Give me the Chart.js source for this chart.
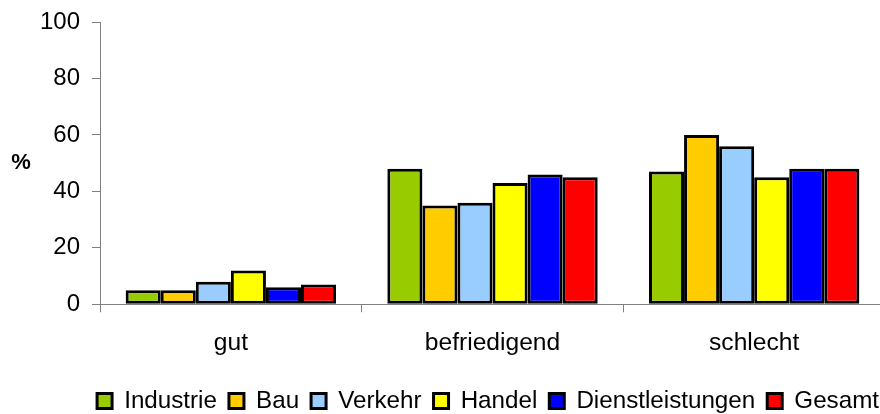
<!DOCTYPE html>
<html lang="de">
<head>
    <meta charset="UTF-8">
    <title>Bewertung nach Branchen</title>
    <script src="https://cdn.jsdelivr.net/npm/chart.js"></script>
    <style>
        html, body {
            margin: 0;
            padding: 0;
            background: #fff;
            overflow: hidden;
        }
        .wrap {
            width: 900px;
            height: 414px;
        }
    </style>
</head>
<body>

<div class="wrap">
    <canvas id="chart" width="900" height="414"></canvas>
</div>

<script>
    // data
    const categories = ["gut", "befriedigend", "schlecht"];
    const industrie = [5, 48, 47];
    const bau = [5, 35, 60];
    const verkehr = [8, 36, 56];
    const handel = [12, 43, 45];
    const dienstleistungen = [6, 46, 48];
    const gesamt = [7, 45, 48];
    const yTicks = [0, 20, 40, 60, 80, 100];

    const FONT = "'Liberation Sans', Arial, sans-serif";

    function series(label, data, color) {
        return {
            label: label,
            data: data,
            backgroundColor: color,
            borderColor: "#000",
            borderWidth: 3,
            borderSkipped: false,
            categoryPercentage: 0.804,
            barPercentage: 1.0
        };
    }

    // "%" written horizontally left of the y axis
    const percentLabel = {
        id: "percentLabel",
        afterDraw(chart) {
            const ctx = chart.ctx;
            const y = chart.scales.y;
            ctx.save();
            ctx.font = "bold 22px " + FONT;
            ctx.fillStyle = "#000";
            ctx.textAlign = "center";
            ctx.textBaseline = "middle";
            ctx.fillText("%", 21, (y.top + y.bottom) / 2);
            ctx.restore();
        }
    };

    // nudge the legend row a little to the right, like the original
    const legendShift = {
        id: "legendShift",
        beforeDraw(chart) {
            chart.legend.left += 6;
            chart.legend.right += 6;
        }
    };

    new Chart(document.getElementById("chart"), {
        type: "bar",
        data: {
            labels: categories,
            datasets: [
                series("Industrie", industrie, "#99CC00"),
                series("Bau", bau, "#FFCC00"),
                series("Verkehr", verkehr, "#99CCFF"),
                series("Handel", handel, "#FFFF00"),
                series("Dienstleistungen", dienstleistungen, "#0000FF"),
                series("Gesamt", gesamt, "#FF0000")
            ]
        },
        options: {
            responsive: false,
            animation: false,
            layout: { padding: { left: 28, right: 15, top: 22, bottom: -9 } },
            plugins: {
                tooltip: { enabled: false },
                legend: {
                    position: "bottom",
                    align: "end",
                    labels: {
                        boxWidth: 15,
                        boxHeight: 15,
                        padding: 12,
                        color: "#000",
                        font: { family: FONT, size: 24.2 }
                    }
                }
            },
            scales: {
                x: {
                    offset: true,
                    afterFit(scale) {
                        scale.height += 3;
                    },
                    border: { color: "#808080", width: 1 },
                    grid: {
                        offset: true,
                        drawOnChartArea: false,
                        drawTicks: true,
                        tickLength: 8,
                        color: "#808080"
                    },
                    ticks: {
                        color: "#000",
                        padding: 16,
                        font: { family: FONT, size: 24.6 }
                    }
                },
                y: {
                    min: 0,
                    max: 100,
                    afterBuildTicks(scale) {
                        scale.ticks = yTicks.map(v => ({ value: v }));
                    },
                    afterFit(scale) {
                        scale.paddingTop = 0;
                        scale.paddingBottom = 0;
                    },
                    border: { color: "#808080", width: 1 },
                    grid: {
                        drawOnChartArea: false,
                        drawTicks: true,
                        tickLength: 8,
                        color: "#808080"
                    },
                    ticks: {
                        color: "#000",
                        padding: 12,
                        font: { family: FONT, size: 24 }
                    }
                }
            }
        },
        plugins: [percentLabel, legendShift]
    });
</script>

</body>
</html>
